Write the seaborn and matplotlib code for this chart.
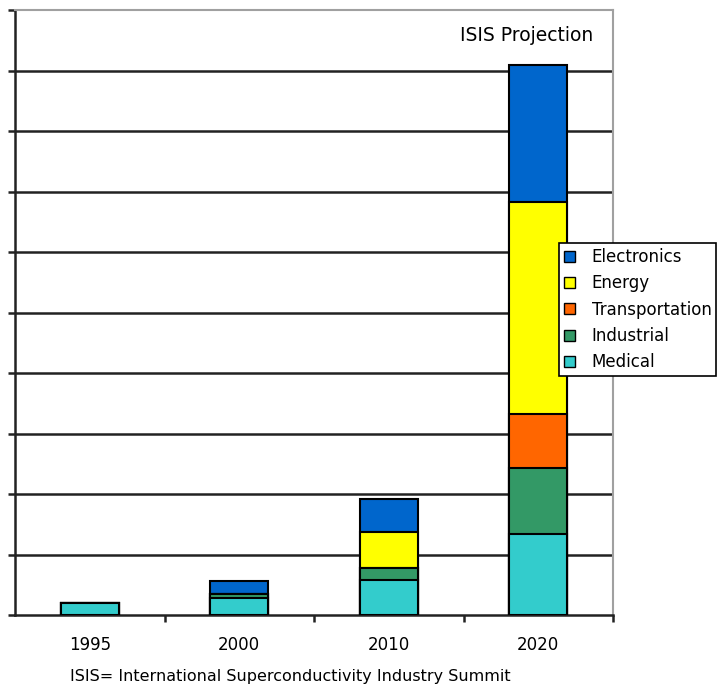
import numpy as np
import pandas as pd
import matplotlib
matplotlib.use("Agg")
import matplotlib.pyplot as plt
import seaborn as sns
from matplotlib.patches import Patch

years = ["1995", "2000", "2010", "2020"]
segments = ["Medical", "Industrial", "Transportation", "Energy", "Electronics"]
medical = [0.20, 0.28, 0.58, 1.34]
industrial = [0.00, 0.06, 0.20, 1.09]
transportation = [0.00, 0.00, 0.00, 0.90]
energy = [0.00, 0.00, 0.59, 3.50]
electronics = [0.00, 0.23, 0.54, 2.26]
colors = {
    "Medical": "#33CCCC",
    "Industrial": "#339966",
    "Transportation": "#FF6600",
    "Energy": "#FFFF00",
    "Electronics": "#0066CC",
}

sns.set_style("white")
plt.rcParams["font.family"] = ["DejaVu Sans"]
plt.rcParams["text.color"] = "black"
plt.rcParams["xtick.color"] = "black"

values = [medical, industrial, transportation, energy, electronics]
cum = np.cumsum(np.array(values), axis=0)

fig = plt.figure(figsize=(7.23, 6.86), dpi=100)
ax = fig.add_axes([15 / 723, 71 / 686, 598 / 723, 605 / 686])

# draw cumulative totals from top segment down so each layer shows its slice
for i in range(len(segments) - 1, -1, -1):
    df = pd.DataFrame({"year": years, "total": cum[i]})
    sns.barplot(data=df, x="year", y="total", color=colors[segments[i]],
                width=0.39, edgecolor="black", linewidth=1.5, saturation=1,
                ax=ax, zorder=3)

ax.set_xlim(-0.5, 3.5)
ax.set_ylim(0, 10)
ax.set_xlabel("")
ax.set_ylabel("")

for y in range(1, 10):
    ax.axhline(y, color="#222222", lw=1.8, zorder=1)

for side in ["top", "right"]:
    ax.spines[side].set_color("#A0A0A0")
    ax.spines[side].set_linewidth(1.5)
for side in ["left", "bottom"]:
    ax.spines[side].set_color("#222222")
    ax.spines[side].set_linewidth(1.8)

ax.set_yticks(range(0, 11))
ax.set_yticklabels([])
ax.tick_params(axis="y", direction="out", length=5, width=1.8, color="#222222", left=True)
ax.set_xticks(range(4))
ax.set_xticklabels(years, fontsize=12, color="black")
ax.tick_params(axis="x", length=0, pad=15)
ax.set_xticks([0.5, 1.5, 2.5, 3.5], minor=True)
ax.tick_params(axis="x", which="minor", direction="out", length=5, width=1.8,
               color="#222222", bottom=True)

ax.text(3.37, 9.58, "ISIS Projection", ha="right", va="center", fontsize=13.5, color="black")

fig.text(70 / 723, 1 - 676 / 686, "ISIS= International Superconductivity Industry Summit",
         ha="left", va="center", fontsize=11.5, color="black")

handles = [Patch(facecolor=colors[s], edgecolor="black", label=s)
           for s in segments[::-1]]
leg = fig.legend(handles=handles, loc="upper left", bbox_to_anchor=(559 / 723, 1 - 243 / 686),
                 frameon=True, fancybox=False, framealpha=1, edgecolor="black",
                 fontsize=12, handlelength=0.65, handleheight=0.65, handletextpad=1.0,
                 labelspacing=0.5, borderpad=0.3, borderaxespad=0)
leg.get_frame().set_linewidth(1.2)
for t in leg.get_texts():
    t.set_color("black")

fig.savefig("out.png", dpi=100)
